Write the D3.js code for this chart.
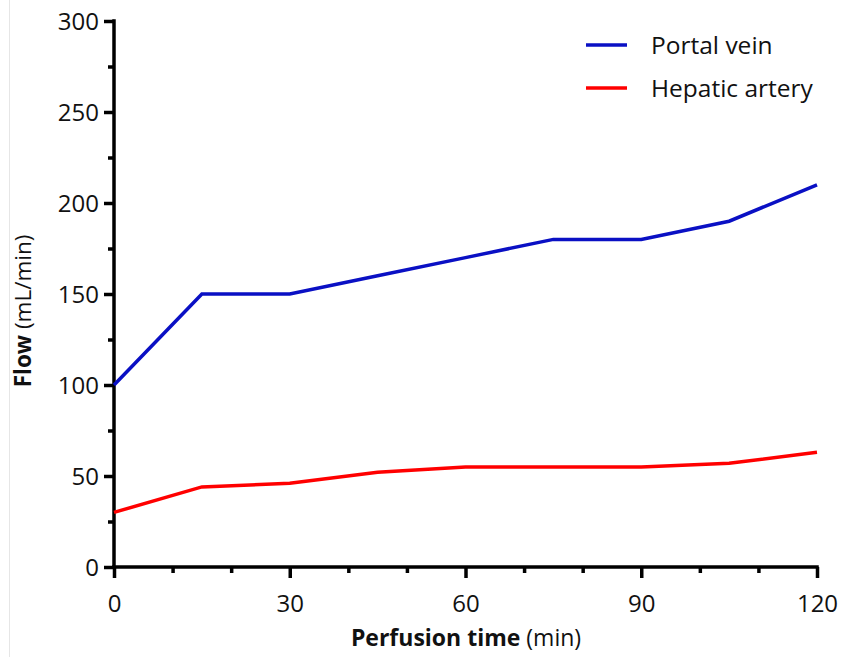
<!DOCTYPE html>
<html>
<head>
<meta charset="utf-8">
<script src="https://cdn.jsdelivr.net/npm/d3@7"></script>
<style>
  body { margin: 0; background: #fff; }
  svg { display: block; font-family: "Open Sans", sans-serif; }
</style>
</head>
<body>
<svg id="chart" width="842" height="657"></svg>
<script>
// data
const times = [0, 15, 30, 45, 60, 75, 90, 105, 120];
const portal_vein = [100, 150, 150, 160, 170, 180, 180, 190, 210];
const hepatic_artery = [30, 44, 46, 52, 55, 55, 55, 57, 63];
const series_names = ["Portal vein", "Hepatic artery"];
const series_colors = ["#0a10c4", "#ff0000"];
const x_ticks = [0, 30, 60, 90, 120];
const y_ticks = [0, 50, 100, 150, 200, 250, 300];

const SVG = d3.select("#chart");
const X_SCALE = d3.scaleLinear().domain([0, 120]).range([114, 817]);
const Y_SCALE = d3.scaleLinear().domain([0, 300]).range([567, 21]);
const AXIS_WID = 3.5;
const LINE_WID = 3.5;
const TICK_SIZE = 24;
const FONT = '"Open Sans", sans-serif';

// faint left border seen in the picture
SVG.append("line")
    .attr("x1", 9.5).attr("x2", 9.5).attr("y1", 0).attr("y2", 657)
    .attr("stroke", "#e6e6e6").attr("stroke-width", 1);

/** 坐标轴 **/
let x_axis = SVG.append("g").attr("transform", `translate(0,${Y_SCALE(0)})`);
x_axis.call(d3.axisBottom(X_SCALE).tickValues(d3.range(0, 121, 10)).tickSize(6).tickFormat(""));
x_axis.selectAll(".tick line").filter(d => x_ticks.includes(d)).attr("y2", 11);
x_axis.selectAll(".tick").filter(d => x_ticks.includes(d)).append("text")
    .attr("y", 45).attr("text-anchor", "middle")
    .attr("fill", "#111").attr("font-size", TICK_SIZE)
    .text(d => d);

let y_axis = SVG.append("g").attr("transform", `translate(${X_SCALE(0)},0)`);
y_axis.call(d3.axisLeft(Y_SCALE).tickValues(d3.range(0, 301, 25)).tickSize(6).tickFormat(""));
y_axis.selectAll(".tick line").filter(d => y_ticks.includes(d)).attr("x2", -10);
y_axis.selectAll(".tick").filter(d => y_ticks.includes(d)).append("text")
    .attr("x", -15).attr("dy", "0.35em").attr("text-anchor", "end")
    .attr("fill", "#111").attr("font-size", TICK_SIZE)
    .text(d => d);

[x_axis, y_axis].forEach(a => a.attr("font-family", FONT).attr("font-size", null));
x_axis.select(".domain").attr("d", `M${X_SCALE(0) - 1.75},0H${X_SCALE(120) + 1.75}`);
y_axis.select(".domain").attr("d", `M0,${Y_SCALE(300) - 1.75}V${Y_SCALE(0) + 1.75}`);
SVG.selectAll(".domain").attr("stroke", "#000").attr("stroke-width", AXIS_WID);
SVG.selectAll(".tick line").attr("stroke", "#000").attr("stroke-width", AXIS_WID);

/** 数据线 **/
const line = d3.line().x((d, i) => X_SCALE(times[i])).y(d => Y_SCALE(d));
[portal_vein, hepatic_artery].forEach((vals, k) => {
    SVG.append("path")
        .attr("d", line(vals))
        .attr("fill", "none")
        .attr("stroke", series_colors[k])
        .attr("stroke-width", LINE_WID)
        .attr("stroke-linejoin", "miter");
});

/** 图例 **/
series_names.forEach((name, k) => {
    let y = 45 + k * 43;
    SVG.append("line")
        .attr("x1", 586).attr("x2", 627).attr("y1", y).attr("y2", y)
        .attr("stroke", series_colors[k]).attr("stroke-width", LINE_WID);
    SVG.append("text")
        .attr("x", 651).attr("y", y).attr("dy", "0.35em")
        .attr("font-size", 24.5).attr("fill", "#111")
        .text(name);
});

/** 轴标题 **/
let xt = SVG.append("text")
    .attr("x", 466).attr("y", 646).attr("text-anchor", "middle")
    .attr("font-size", 23).attr("fill", "#111");
xt.append("tspan").attr("font-weight", "bold").text("Perfusion time");
xt.append("tspan").text(" (min)");

let yt = SVG.append("text")
    .attr("transform", "translate(31,311) rotate(-90)")
    .attr("text-anchor", "middle")
    .attr("font-size", 22.5).attr("fill", "#111");
yt.append("tspan").attr("font-weight", "bold").text("Flow");
yt.append("tspan").text(" (mL/min)");
</script>
</body>
</html>
